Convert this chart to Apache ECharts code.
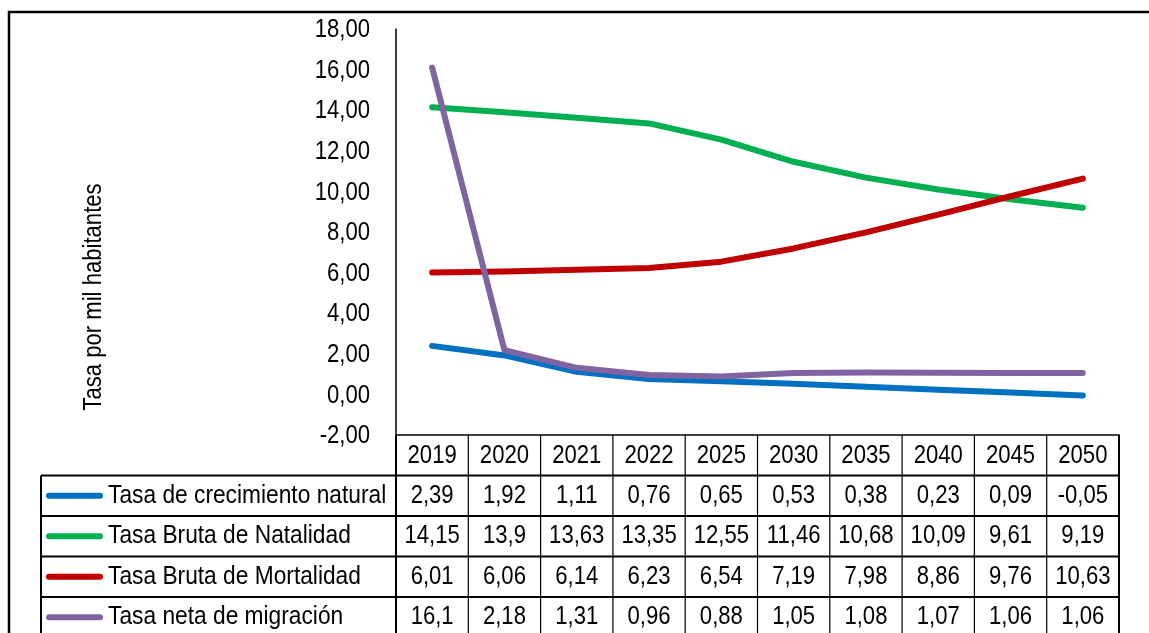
<!DOCTYPE html>
<html><head><meta charset="utf-8">
<script src="https://cdn.jsdelivr.net/npm/echarts@6/dist/echarts.min.js"></script>
<style>html,body{margin:0;padding:0;background:#fff;overflow:hidden}#c{width:1149px;height:633px}</style>
</head><body><div id="c"></div>
<script>
const years = ['2019','2020','2021','2022','2025','2030','2035','2040','2045','2050'];
const crecimientoNatural = [2.39,1.92,1.11,0.76,0.65,0.53,0.38,0.23,0.09,-0.05];
const brutaNatalidad = [14.15,13.9,13.63,13.35,12.55,11.46,10.68,10.09,9.61,9.19];
const brutaMortalidad = [6.01,6.06,6.14,6.23,6.54,7.19,7.98,8.86,9.76,10.63];
const netaMigracion = [16.1,2.18,1.31,0.96,0.88,1.05,1.08,1.07,1.06,1.06];
const seriesNames = ['Tasa de crecimiento natural','Tasa Bruta de Natalidad','Tasa Bruta de Mortalidad','Tasa neta de migración'];
const seriesValues = [crecimientoNatural, brutaNatalidad, brutaMortalidad, netaMigracion];
const seriesColors = ['#0070C0','#00B050','#C00000','#8064A2'];
const yAxisTitle = 'Tasa por mil habitantes';
const yMin = -2, yMax = 18, yStep = 2;

const FONT = "'Liberation Sans Narrow','Arial Narrow','Liberation Sans',Arial,sans-serif";
const FS = 26;
const SX = 0.85;
const fmt = v => String(v).replace('.', ',');

const chart = echarts.init(document.getElementById('c'), null, {renderer: 'canvas'});
chart.setOption({
  animation: false,
  backgroundColor: '#fff',
  grid: {left: 396, right: 30, top: 29, bottom: 198},
  xAxis: {
    type: 'category', data: years, boundaryGap: true,
    axisLine: {show: true, onZero: false, lineStyle: {color: '#000', width: 1.5}},
    axisTick: {show: false}, axisLabel: {show: false}, splitLine: {show: false}
  },
  yAxis: {
    type: 'value', min: yMin, max: yMax, interval: yStep,
    axisLine: {show: true, lineStyle: {color: '#000', width: 1.5}},
    axisTick: {show: false}, splitLine: {show: false},
    axisLabel: {show: false}
  },
  series: seriesValues.map((d, i) => ({
    type: 'line', name: seriesNames[i], data: d, smooth: false, symbol: 'none',
    lineStyle: {color: seriesColors[i], width: 6, cap: 'round', join: 'round'}
  }))
});

function txt(x, y, text, align, extra) {
  return Object.assign({type: 'text', x, y, scaleX: SX, silent: true,
    style: {text, fill: '#000', font: FS + 'px ' + FONT, align, verticalAlign: 'middle'}}, extra || {});
}

function drawTable() {
  const c0 = chart.convertToPixel({xAxisIndex: 0}, years[0]);
  const c1 = chart.convertToPixel({xAxisIndex: 0}, years[1]);
  const band = c1 - c0;
  const left = c0 - band / 2;
  const right = left + band * years.length;
  const top = chart.convertToPixel({yAxisIndex: 0}, yMin);
  const rowH = 40.5;
  const labelLeft = 41;
  const bottom = top + rowH * (seriesValues.length + 1);
  const els = [];
  const line = (x1, y1, x2, y2, w) => els.push({type: 'line', shape: {x1, y1, x2, y2}, style: {stroke: '#000', lineWidth: w}, silent: true});
  // outer frame
  els.push({type: 'rect', shape: {x: 9, y: 12, width: 1200, height: 700}, style: {fill: null, stroke: '#000', lineWidth: 2.5}, silent: true});
  // y tick labels
  for (let v = yMin; v <= yMax + 1e-9; v += yStep) {
    const py = chart.convertToPixel({yAxisIndex: 0}, v);
    els.push(txt(left - 26, py + 1, v.toFixed(2).replace('.', ','), 'right'));
  }
  // vertical lines of value columns
  for (let k = 0; k <= years.length; k++) {
    const x = left + band * k;
    line(x, top, x, bottom, k === 0 || k === years.length ? 2 : 1.2);
  }
  // horizontal lines
  for (let r = 1; r <= seriesValues.length + 1; r++) {
    line(labelLeft, top + rowH * r, right, top + rowH * r, 2);
  }
  line(labelLeft, top + rowH, labelLeft, bottom, 2);
  // header years
  years.forEach((y, k) => {
    els.push(txt(left + band * (k + 0.5), top + rowH / 2 + 1, y, 'center'));
  });
  // rows
  seriesValues.forEach((vals, r) => {
    const yc = top + rowH * (r + 1.5);
    els.push({type: 'line', shape: {x1: 49, y1: yc, x2: 100, y2: yc},
      style: {stroke: seriesColors[r], lineWidth: 6, lineCap: 'round'}, silent: true});
    els.push(txt(108, yc, seriesNames[r], 'left', {scaleX: 0.875}));
    vals.forEach((v, k) => {
      els.push(txt(left + band * (k + 0.5), yc, fmt(v), 'center'));
    });
  });
  // y axis title
  els.push(txt(94, 297, yAxisTitle, 'center', {rotation: Math.PI / 2}));
  chart.setOption({graphic: {elements: els}});
}
drawTable();
</script>
</body></html>
